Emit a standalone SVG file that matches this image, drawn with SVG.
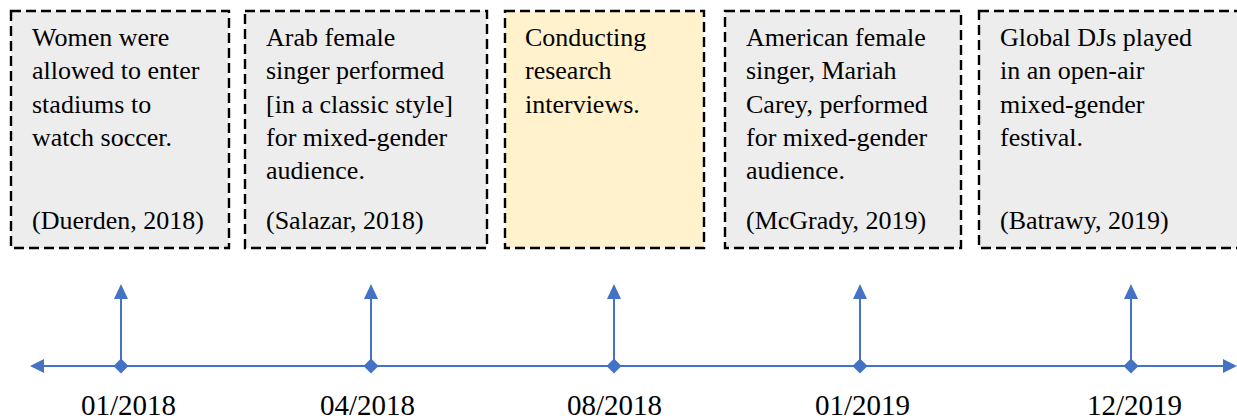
<svg xmlns="http://www.w3.org/2000/svg" width="1237" height="420" viewBox="0 0 1237 420">
<style>
.box{stroke:#000;stroke-width:2.4;stroke-dasharray:10 5}
.gray{fill:#EDEDED}
.yellow{fill:#FFF2CC}
.t{font-family:"Liberation Serif","Times New Roman",serif;font-size:26px;fill:#000}
.d{font-family:"Liberation Serif","Times New Roman",serif;font-size:29px;fill:#000}
.ln{stroke:#4472C4;stroke-width:2;fill:none}
.bl{fill:#4472C4}
</style>
<rect width="1237" height="420" fill="#fff"/>
<g id="n1">
<rect class="box gray" x="11" y="11" width="218" height="237"/>
<text class="t" x="32" y="46">Women were</text>
<text class="t" x="32" y="79.3">allowed to enter</text>
<text class="t" x="32" y="112.6">stadiums to</text>
<text class="t" x="32" y="146">watch soccer.</text>
<text class="t" x="32" y="229">(Duerden, 2018)</text>
</g>
<g id="n2">
<rect class="box gray" x="245" y="11" width="242" height="237"/>
<text class="t" x="266" y="46">Arab female</text>
<text class="t" x="266" y="79.3">singer performed</text>
<text class="t" x="266" y="112.6">[in a classic style]</text>
<text class="t" x="266" y="146">for mixed-gender</text>
<text class="t" x="266" y="179.3">audience.</text>
<text class="t" x="266" y="229">(Salazar, 2018)</text>
</g>
<g id="n3">
<rect class="box yellow" x="505" y="11" width="199" height="237"/>
<text class="t" x="525" y="46">Conducting</text>
<text class="t" x="525" y="79.3">research</text>
<text class="t" x="525" y="112.6">interviews.</text>
</g>
<g id="n4">
<rect class="box gray" x="725" y="11" width="236" height="237"/>
<text class="t" x="746" y="46">American female</text>
<text class="t" x="746" y="79.3">singer, Mariah</text>
<text class="t" x="746" y="112.6">Carey, performed</text>
<text class="t" x="746" y="146">for mixed-gender</text>
<text class="t" x="746" y="179.3">audience.</text>
<text class="t" x="746" y="229">(McGrady, 2019)</text>
</g>
<g id="n5">
<rect class="box gray" x="979" y="11" width="270" height="237"/>
<text class="t" x="1000" y="46">Global DJs played</text>
<text class="t" x="1000" y="79.3">in an open-air</text>
<text class="t" x="1000" y="112.6">mixed-gender</text>
<text class="t" x="1000" y="146">festival.</text>
<text class="t" x="1000" y="229">(Batrawy, 2019)</text>
</g>
<g id="connectors">
<line class="ln" x1="42" y1="366" x2="1224" y2="366"/>
<polygon class="bl" points="30,366 44,359 44,373"/>
<polygon class="bl" points="1237,366 1223,359 1223,373"/>
<line class="ln" x1="121" y1="366" x2="121" y2="296"/>
<polygon class="bl" points="121,284 114,299 128,299"/>
<polygon class="bl" points="121,358.5 128.5,366 121,373.5 113.5,366"/>
<line class="ln" x1="371" y1="366" x2="371" y2="296"/>
<polygon class="bl" points="371,284 364,299 378,299"/>
<polygon class="bl" points="371,358.5 378.5,366 371,373.5 363.5,366"/>
<line class="ln" x1="614" y1="366" x2="614" y2="296"/>
<polygon class="bl" points="614,284 607,299 621,299"/>
<polygon class="bl" points="614,358.5 621.5,366 614,373.5 606.5,366"/>
<line class="ln" x1="860" y1="366" x2="860" y2="296"/>
<polygon class="bl" points="860,284 853,299 867,299"/>
<polygon class="bl" points="860,358.5 867.5,366 860,373.5 852.5,366"/>
<line class="ln" x1="1131" y1="366" x2="1131" y2="296"/>
<polygon class="bl" points="1131,284 1124,299 1138,299"/>
<polygon class="bl" points="1131,358.5 1138.5,366 1131,373.5 1123.5,366"/>
</g>
<g id="labels">
<text class="d" x="81" y="415">01/2018</text>
<text class="d" x="320" y="415">04/2018</text>
<text class="d" x="567" y="415">08/2018</text>
<text class="d" x="815" y="415">01/2019</text>
<text class="d" x="1087" y="415">12/2019</text>
</g>
</svg>
